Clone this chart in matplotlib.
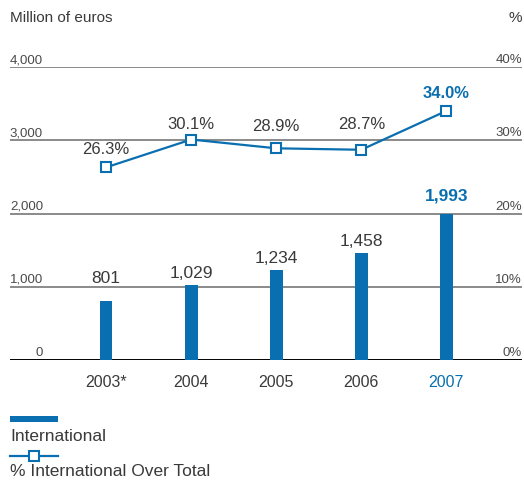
import matplotlib.pyplot as plt
from matplotlib.lines import Line2D
from matplotlib.patches import Rectangle

years = ["2003*", "2004", "2005", "2006", "2007"]
international = [801, 1029, 1234, 1458, 1993]
pct_over_total = [26.3, 30.1, 28.9, 28.7, 34.0]
left_ticks = [0, 1000, 2000, 3000, 4000]
right_ticks = [0, 10, 20, 30, 40]

# label offsets above marks (points), as in the original artwork
bar_label_pad = [11.5, 3, 3.5, 3.5, 8]
pct_label_pad = [8, 6, 11, 13.5, 8]

BLUE = "#0a6fb0"
DARK = "#3a3a3a"
GRID = "#777777"

plt.rcParams["font.family"] = ["Liberation Sans", "DejaVu Sans"]

fig = plt.figure(figsize=(5.24, 4.81), dpi=100)
ax = fig.add_axes([10 / 524, 120 / 481, 512 / 524, 293 / 481])
ax2 = ax.twinx()

x = list(range(len(years)))
ax.bar(x, international, width=0.15, color=BLUE, zorder=3)
ax.set_xlim(-1.13, 4.89)
ax.set_ylim(0, 4000)
ax2.set_ylim(0, 40)

# gridlines and scale labels
for v in left_ticks:
    ax.axhline(v, color="black" if v == 0 else GRID, lw=1.4 if v == 0 else 1.2, zorder=1)
    ax.text(33 / 512, v + 25, f"{v:,}" if v else "0", ha="right", va="bottom",
            fontsize=9.5, color="#4a4a4a", transform=ax.get_yaxis_transform())
for v in right_ticks:
    ax2.text(1.0, v + 0.25, f"{v}%", ha="right", va="bottom",
             fontsize=9.5, color="#4a4a4a", transform=ax2.get_yaxis_transform())

for s in list(ax.spines.values()) + list(ax2.spines.values()):
    s.set_visible(False)
ax.set_xticks([])
ax.set_yticks([])
ax2.set_yticks([])

# year labels
for i, yr in enumerate(years):
    ax.annotate(yr, (i, 0), xytext=(0, -10), textcoords="offset points",
                ha="center", va="top", fontsize=11.5,
                color=BLUE if i == len(years) - 1 else DARK)

# bar value labels
for i, v in enumerate(international):
    last = i == len(years) - 1
    ax.annotate(f"{v:,}", (i, v), xytext=(0, bar_label_pad[i]), textcoords="offset points",
                ha="center", va="bottom", fontsize=12.5,
                color=BLUE if last else DARK, fontweight="bold" if last else "normal")

# percentage line
ax2.plot(x, pct_over_total, color=BLUE, lw=1.6, marker="s", ms=6.5,
         mfc="white", mec=BLUE, mew=1.5, zorder=4)
for i, v in enumerate(pct_over_total):
    last = i == len(years) - 1
    ax2.annotate(f"{v:.1f}%", (i, v), xytext=(0, pct_label_pad[i]), textcoords="offset points",
                 ha="center", va="bottom", fontsize=12,
                 color=BLUE if last else DARK, fontweight="bold" if last else "normal")

# titles
fig.text(10 / 524, 1 - 18 / 481, "Million of euros", ha="left", va="center",
         fontsize=11, color=DARK)
fig.text(522 / 524, 1 - 18 / 481, "%", ha="right", va="center",
         fontsize=11, color=DARK)

# legend
fig.add_artist(Rectangle((10 / 524, 1 - 423 / 481), 48 / 524, 6 / 481,
                         transform=fig.transFigure, color=BLUE, lw=0))
fig.text(10 / 524, 1 - 437 / 481, "International", ha="left", va="center",
         fontsize=12.5, color=DARK)
fig.add_artist(Line2D([10 / 524, 58 / 524], [1 - 457 / 481, 1 - 457 / 481],
                      transform=fig.transFigure, color=BLUE, lw=1.6))
fig.add_artist(Line2D([34 / 524], [1 - 457 / 481], transform=fig.transFigure,
                      marker="s", ms=6.5, mfc="white", mec=BLUE, mew=1.5, ls="none"))
fig.text(10 / 524, 1 - 472 / 481, "% International Over Total", ha="left", va="center",
         fontsize=12.5, color=DARK)

fig.savefig("out.png", dpi=100)
